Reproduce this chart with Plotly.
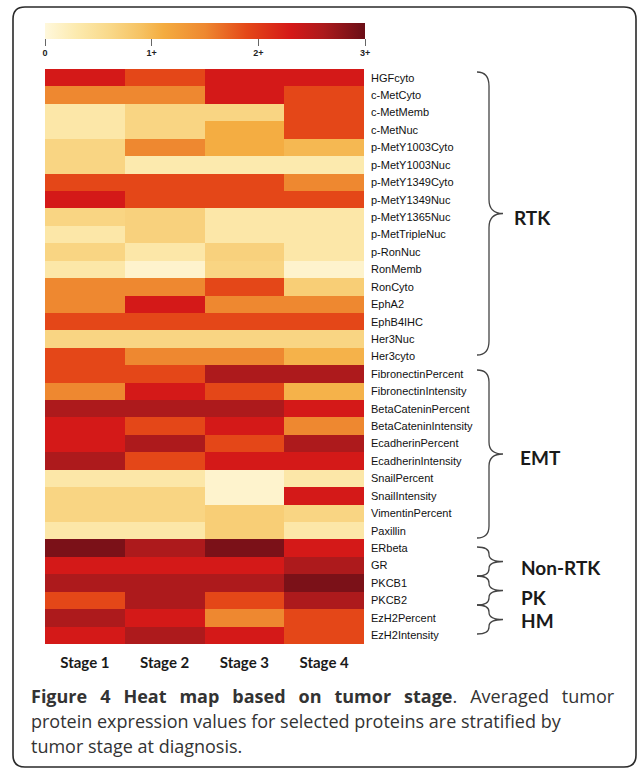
import plotly.graph_objects as go

W, H = 637, 771

stages = ["Stage 1", "Stage 2", "Stage 3", "Stage 4"]
proteins = [
    "HGFcyto", "c-MetCyto", "c-MetMemb", "c-MetNuc", "p-MetY1003Cyto",
    "p-MetY1003Nuc", "p-MetY1349Cyto", "p-MetY1349Nuc", "p-MetY1365Nuc",
    "p-MetTripleNuc", "p-RonNuc", "RonMemb", "RonCyto", "EphA2", "EphB4IHC",
    "Her3Nuc", "Her3cyto",
    "FibronectinPercent", "FibronectinIntensity", "BetaCateninPercent",
    "BetaCateninIntensity", "EcadherinPercent", "EcadherinIntensity",
    "SnailPercent", "SnailIntensity", "VimentinPercent", "Paxillin",
    "ERbeta", "GR", "PKCB1", "PKCB2", "EzH2Percent", "EzH2Intensity",
]

stage1 = [2.3, 1.5, 0.35, 0.35, 0.65, 0.65, 1.9, 2.3, 0.65, 0.35, 0.65, 0.35, 1.5, 1.5, 1.9, 0.65, 1.9,
          1.9, 1.5, 2.6, 2.3, 2.3, 2.6, 0.35, 0.65, 0.65, 0.35,
          2.9, 2.3, 2.6, 1.9, 2.6, 2.3]
stage2 = [1.9, 1.5, 0.65, 0.65, 1.5, 0.3, 1.9, 1.9, 0.7, 0.7, 0.35, 0.1, 1.5, 2.3, 1.9, 0.65, 1.5,
          1.9, 2.3, 2.6, 1.9, 2.6, 1.9, 0.35, 0.65, 0.65, 0.35,
          2.6, 2.3, 2.6, 2.6, 2.3, 2.6]
stage3 = [2.3, 2.3, 0.65, 1.1, 1.1, 0.3, 1.9, 1.9, 0.35, 0.35, 0.7, 0.65, 1.9, 1.5, 1.9, 0.65, 1.5,
          2.6, 1.9, 2.6, 2.3, 1.9, 2.3, 0.1, 0.1, 0.75, 0.75,
          2.9, 2.3, 2.6, 1.9, 1.5, 2.3]
stage4 = [2.3, 1.9, 1.9, 1.9, 1.0, 0.3, 1.5, 1.9, 0.35, 0.35, 0.35, 0.1, 0.75, 1.5, 1.9, 0.65, 1.05,
          2.6, 1.05, 2.3, 1.5, 2.6, 2.3, 0.35, 2.3, 0.65, 0.35,
          2.3, 2.6, 2.9, 2.6, 1.9, 1.9]

bar_ticks = [0, 1, 2, 3]
bar_labels = ["0", "1+", "2+", "3+"]

groups = ["RTK", "EMT", "Non-RTK", "PK", "HM"]

colorscale = [
    [0.00, "#FFF8DC"],
    [0.10, "#FCEAAE"],
    [0.20, "#F9D98A"],
    [0.30, "#F6C262"],
    [0.37, "#F4AC40"],
    [0.50, "#EE8830"],
    [0.63, "#E44818"],
    [0.77, "#D41818"],
    [0.87, "#AC1A1C"],
    [1.00, "#6A0E16"],
]

z = [[a, b, c, d] for a, b, c, d in zip(stage1, stage2, stage3, stage4)]


def px(x):
    return x / W


def py(y):
    return 1 - y / H


fig = go.Figure()
fig.add_trace(go.Heatmap(
    z=z, x=list(range(len(stages))), y=list(range(len(proteins))),
    colorscale=colorscale, zmin=0, zmax=3, hoverinfo="skip",
    colorbar=dict(
        orientation="h", x=px(45), xanchor="left", len=320 / W, lenmode="fraction",
        y=py(23), yanchor="top", thickness=16, xpad=0, ypad=0, outlinewidth=0,
        tickvals=bar_ticks, ticktext=bar_labels, ticks="outside", ticklen=7,
        tickcolor="#666", tickwidth=1,
        tickfont=dict(size=9, family="Liberation Sans", color="#222", weight="bold"),
    ),
))


def brace_path(x0, xv, xtip, ytop, ybot, r):
    ymid = (ytop + ybot) / 2
    p = [
        f"M {px(x0)},{py(ytop)}",
        f"Q {px(xv)},{py(ytop)} {px(xv)},{py(ytop + r)}",
        f"L {px(xv)},{py(ymid - r)}",
        f"Q {px(xv)},{py(ymid)} {px(xtip)},{py(ymid)}",
        f"Q {px(xv)},{py(ymid)} {px(xv)},{py(ymid + r)}",
        f"L {px(xv)},{py(ybot - r)}",
        f"Q {px(xv)},{py(ybot)} {px(x0)},{py(ybot)}",
    ]
    return " ".join(p)


shapes = []
# outer rounded frame
x0, x1, y0, y1, rr = 13, 636, 7, 767, 12
frame = (f"M {px(x0 + rr)},{py(y0)} L {px(x1 - rr)},{py(y0)} "
         f"Q {px(x1)},{py(y0)} {px(x1)},{py(y0 + rr)} L {px(x1)},{py(y1 - rr)} "
         f"Q {px(x1)},{py(y1)} {px(x1 - rr)},{py(y1)} L {px(x0 + rr)},{py(y1)} "
         f"Q {px(x0)},{py(y1)} {px(x0)},{py(y1 - rr)} L {px(x0)},{py(y0 + rr)} "
         f"Q {px(x0)},{py(y0)} {px(x0 + rr)},{py(y0)} Z")
shapes.append(dict(type="path", path=frame, xref="paper", yref="paper",
                   line=dict(color="#2a2a2a", width=1.6), layer="below"))

brace_specs = [
    (72, 355, 14),
    (370, 538, 12),
    (547, 576, 7),
    (576, 605, 7),
    (605, 634, 7),
]
for ytop, ybot, r in brace_specs:
    shapes.append(dict(type="path", path=brace_path(477, 489, 503, ytop, ybot, r),
                       xref="paper", yref="paper",
                       line=dict(color="#444", width=1.3)))

annotations = []
label_pos = [(512, 217), (518, 457), (519, 567), (519, 597), (519, 620)]
for g, (lx, ly) in zip(groups, label_pos):
    annotations.append(dict(text=g, x=px(lx), y=py(ly), xref="paper", yref="paper",
                            xanchor="left", yanchor="middle", showarrow=False,
                            font=dict(family="Lato", size=19, color="#1a1a1a", weight="bold")))

gap = "\u00a0\u200a\u200a"  # widened word gap to imitate the justified first line
line1_bold = "Figure 4 Heat map based on tumor stage".replace(" ", " " + gap)
line1_rest = ". Averaged tumor".replace(" ", " " + gap)
cap_lines = [
    f"<b>{line1_bold}</b>{line1_rest}",
    "protein expression values for selected proteins are stratified by",
    "tumor stage at diagnosis.",
]
for i, t in enumerate(cap_lines):
    annotations.append(dict(text=t, x=px(29), y=py(696 + 25 * i), xref="paper", yref="paper",
                            xanchor="left", yanchor="middle", showarrow=False,
                            font=dict(family="Open Sans", size=18, color="#333")))

fig.update_layout(
    width=W, height=H, margin=dict(l=0, r=0, t=0, b=0),
    paper_bgcolor="white", plot_bgcolor="white",
    xaxis=dict(domain=[px(45), px(364)], tickvals=list(range(len(stages))), ticktext=stages,
               showgrid=False, zeroline=False, ticks="", showline=False,
               ticklabelstandoff=8,
               tickfont=dict(family="Lato", size=15, color="#1a1a1a", weight="bold")),
    yaxis=dict(domain=[py(644), py(69)], tickvals=list(range(len(proteins))), ticktext=proteins,
               range=[len(proteins) - 0.5, -0.5], side="right",
               showgrid=False, zeroline=False, ticks="", showline=False,
               ticklabelstandoff=6,
               tickfont=dict(family="Liberation Sans", size=11, color="#111")),
    shapes=shapes, annotations=annotations,
)

fig.write_html("out.html", config={"displayModeBar": False},
               post_script="document.body.style.margin='0px';document.body.style.overflow='hidden';")
